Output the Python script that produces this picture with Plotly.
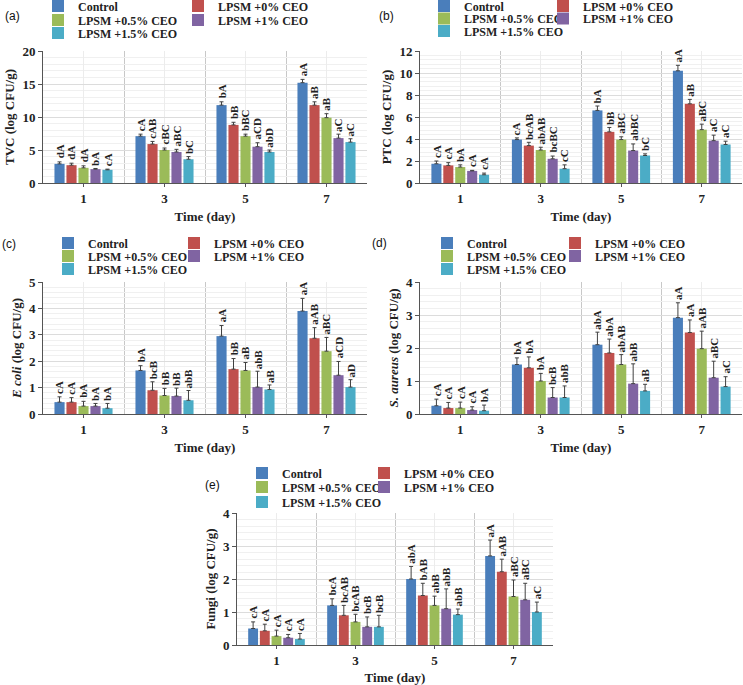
import plotly.graph_objects as go

days = ["1", "3", "5", "7"]
series = ["Control", "LPSM +0% CEO", "LPSM +0.5% CEO", "LPSM +1% CEO", "LPSM +1.5% CEO"]
colors = ["#4a7ebb", "#c0504d", "#9bbb59", "#8064a2", "#4bacc6"]

# values[series][day]
tvc = [[2.9, 7.1, 11.8, 15.2], [2.7, 5.9, 8.8, 11.8], [2.3, 5.0, 7.1, 9.9], [2.1, 4.7, 5.5, 6.8], [2.0, 3.6, 4.7, 6.2]]
tvc_err = [[0.3, 0.3, 0.5, 0.5], [0.3, 0.4, 0.4, 0.5], [0.3, 0.3, 0.3, 0.6], [0.1, 0.4, 0.6, 0.6], [0.1, 0.4, 0.3, 0.5]]
tvc_lbl = [["dA", "cA", "bA", "aA"], ["dA", "cAB", "bB", "aB"], ["dA", "cBC", "bBC", "aB"], ["bA", "aBC", "aCD", "aC"], ["cA", "bC", "abD", "aC"]]

ptc = [[1.75, 3.95, 6.6, 10.2], [1.6, 3.4, 4.65, 7.2], [1.45, 3.0, 3.95, 4.85], [1.1, 2.2, 2.95, 3.85], [0.75, 1.3, 2.5, 3.5]]
ptc_err = [[0.25, 0.15, 0.4, 0.5], [0.25, 0.3, 0.4, 0.4], [0.2, 0.25, 0.25, 0.5], [0.05, 0.25, 0.6, 0.5], [0.15, 0.35, 0.15, 0.3]]
ptc_lbl = [["cA", "cA", "bA", "aA"], ["cA", "bcAB", "bB", "aB"], ["bA", "abAB", "aBC", "aBC"], ["cA", "bcBC", "abBC", "aC"], ["cA", "cC", "bC", "aC"]]

ecoli = [[0.45, 1.65, 2.95, 3.9], [0.45, 0.9, 1.7, 2.87], [0.3, 0.7, 1.65, 2.38], [0.3, 0.68, 1.02, 1.47], [0.22, 0.52, 0.93, 1.02]]
ecoli_err = [[0.2, 0.18, 0.4, 0.48], [0.17, 0.32, 0.4, 0.4], [0.18, 0.27, 0.3, 0.52], [0.1, 0.3, 0.6, 0.52], [0.18, 0.37, 0.17, 0.28]]
ecoli_lbl = [["cA", "bA", "aA", "aA"], ["cA", "bcB", "bB", "aAB"], ["bA", "bB", "aB", "aBC"], ["bA", "bB", "abB", "aCD"], ["bA", "abB", "aB", "aD"]]

saur = [[0.25, 1.5, 2.1, 2.92], [0.18, 1.4, 1.85, 2.47], [0.18, 1.0, 1.5, 1.98], [0.12, 0.5, 0.92, 1.1], [0.1, 0.5, 0.7, 0.83]]
saur_err = [[0.2, 0.2, 0.38, 0.45], [0.17, 0.33, 0.42, 0.38], [0.18, 0.23, 0.3, 0.53], [0.1, 0.3, 0.6, 0.5], [0.17, 0.35, 0.2, 0.3]]
saur_lbl = [["cA", "bA", "abA", "aA"], ["cA", "bA", "abA", "aA"], ["cA", "bA", "abAB", "aAB"], ["cA", "bcB", "abB", "aBC"], ["bA", "abB", "aB", "aC"]]

fungi = [[0.5, 1.2, 2.0, 2.7], [0.43, 0.9, 1.5, 2.22], [0.27, 0.7, 1.2, 1.47], [0.22, 0.55, 1.1, 1.37], [0.18, 0.55, 0.92, 1.0]]
fungi_err = [[0.2, 0.2, 0.38, 0.48], [0.2, 0.3, 0.37, 0.38], [0.18, 0.23, 0.28, 0.5], [0.1, 0.3, 0.6, 0.5], [0.17, 0.35, 0.17, 0.3]]
fungi_lbl = [["cA", "bcA", "abA", "aA"], ["cA", "bcAB", "bAB", "aAB"], ["cA", "bcAB", "abB", "aBC"], ["cA", "bcB", "abB", "aBC"], ["cA", "bcB", "abB", "aC"]]

W, H = 743, 685
def px(x): return x / W
def py(y): return 1 - y / H

SERIF = "Liberation Serif"
# approximate glyph advance widths (em) of bold serif letters used in the labels
ADV = {"a": 0.5, "b": 0.556, "c": 0.444, "d": 0.556, "A": 0.722, "B": 0.667, "C": 0.722, "D": 0.722}
LBL_SIZE = 11

panels = [
    dict(vals=tvc, err=tvc_err, lbl=tvc_lbl, title="TVC (log CFU/g)", rng=[0, 20], dtick=5, minor=1,
         xd=[43, 367], yd=[51, 183], tag="(a)", tagpos=(13, 16),
         leg=dict(c1=78, c2=218, rows=[6, 20, 33])),
    dict(vals=ptc, err=ptc_err, lbl=ptc_lbl, title="PTC (log CFU/g)", rng=[0, 12], dtick=2, minor=0.4,
         xd=[420, 742], yd=[51, 183], tag="(b)", tagpos=(386, 16),
         leg=dict(c1=464, c2=583, rows=[6, 18.5, 31])),
    dict(vals=ecoli, err=ecoli_err, lbl=ecoli_lbl, title="<i>E coli</i> (log CFU/g)", rng=[0, 5], dtick=1, minor=0.2,
         xd=[43, 367], yd=[282, 414], tag="(c)", tagpos=(9, 244),
         leg=dict(c1=88, c2=214, rows=[243, 256, 269])),
    dict(vals=saur, err=saur_err, lbl=saur_lbl, title="<i>S. aureus</i> (log CFU/g)", rng=[0, 4], dtick=1, minor=0.2,
         xd=[420, 742], yd=[282, 414], tag="(d)", tagpos=(379, 243),
         leg=dict(c1=467, c2=595, rows=[243, 256, 269])),
    dict(vals=fungi, err=fungi_err, lbl=fungi_lbl, title="Fungi (log CFU/g)", rng=[0, 4], dtick=1, minor=0.2,
         xd=[237, 553], yd=[513, 645], tag="(e)", tagpos=(212, 485),
         leg=dict(c1=282, c2=404, rows=[473, 487, 502])),
]

INDENT = -8
LEG_TEXT_OFFSET = 40 + INDENT  # distance from legend box left edge to its text start
spacing = 0.148
bw = 0.125
fig = go.Figure()
annotations = []
layout = {}
legend_id = 0
row_of = [0, 0, 1, 1, 2]
col_of = [0, 1, 0, 1, 0]
for p_i, p in enumerate(panels):
    sfx = "" if p_i == 0 else str(p_i + 1)
    xa, ya = "x" + sfx, "y" + sfx
    for j in range(5):
        legend_id += 1
        lname = "legend" if legend_id == 1 else "legend%d" % legend_id
        tx = p["leg"]["c1"] if col_of[j] == 0 else p["leg"]["c2"]
        layout[lname] = dict(orientation="h", x=px(tx - LEG_TEXT_OFFSET), xanchor="left",
                             y=py(p["leg"]["rows"][row_of[j]]), yanchor="middle", indentation=INDENT,
                             font=dict(family=SERIF, size=12, color="#222", weight="bold"),
                             bgcolor="rgba(0,0,0,0)", itemclick=False, itemdoubleclick=False)
        xs = [i + (j - 2) * spacing for i in range(4)]
        fig.add_trace(go.Bar(
            x=xs, y=p["vals"][j], width=bw, name=series[j], marker=dict(color=colors[j], line=dict(width=0)),
            error_y=dict(type="data", array=p["err"][j], arrayminus=[0] * 4, symmetric=False,
                         color="#404040", thickness=1, width=2),
            xaxis=xa, yaxis=ya, legend=lname, showlegend=True))
        for i in range(4):
            txt = p["lbl"][j][i]
            tw = sum(ADV.get(ch, 0.6) for ch in txt) * LBL_SIZE
            annotations.append(dict(x=xs[i], y=p["vals"][j][i] + p["err"][j][i], xref=xa, yref=ya,
                                    text=txt, textangle=-90, showarrow=False,
                                    xanchor="center", yanchor="middle", yshift=tw / 2 + 3,
                                    borderpad=0, borderwidth=0,
                                    font=dict(family=SERIF, size=LBL_SIZE, color="#222", weight="bold")))
    annotations.append(dict(x=px(p["tagpos"][0]), y=py(p["tagpos"][1]), xref="paper", yref="paper",
                            text=p["tag"], showarrow=False, xanchor="center", yanchor="middle",
                            font=dict(family="Liberation Sans", size=12, color="#111")))
    layout["xaxis" + sfx] = dict(domain=[px(p["xd"][0]), px(p["xd"][1])], anchor=ya, range=[-0.5, 3.5],
                                 tickvals=[0, 1, 2, 3], ticktext=days, showgrid=True, gridcolor="#ececec",
                                 ticks="outside", ticklen=3, tickcolor="#555",
                                 minor=dict(tickvals=[0.5, 1.5, 2.5, 3.5], showgrid=True, gridcolor="#c8c8c8",
                                            ticks=""),
                                 showline=True, linecolor="#555", linewidth=1, zeroline=False,
                                 tickfont=dict(family=SERIF, size=13, color="#222", weight="bold"),
                                 title=dict(text="Time (day)", standoff=7,
                                            font=dict(family=SERIF, size=13, color="#222", weight="bold")))
    layout["yaxis" + sfx] = dict(domain=[py(p["yd"][1]), py(p["yd"][0])], anchor=xa, range=p["rng"],
                                 dtick=p["dtick"], showgrid=True, gridcolor="#dcdcdc",
                                 minor=dict(dtick=p["minor"], showgrid=True, gridcolor="#f0f0f0"),
                                 ticks="outside", ticklen=4, tickcolor="#555",
                                 showline=True, linecolor="#555", linewidth=1, zeroline=False,
                                 tickfont=dict(family=SERIF, size=13, color="#222", weight="bold"),
                                 title=dict(text=p["title"], standoff=4,
                                            font=dict(family=SERIF, size=13, color="#222", weight="bold")))

fig.update_layout(width=W, height=H, margin=dict(l=0, r=0, t=0, b=0, autoexpand=False),
                  paper_bgcolor="white", plot_bgcolor="white", barmode="overlay", hovermode=False,
                  annotations=annotations, **layout)
fig.write_html("out.html", config={"displayModeBar": False},
               post_script="document.body.style.margin='0px';")
